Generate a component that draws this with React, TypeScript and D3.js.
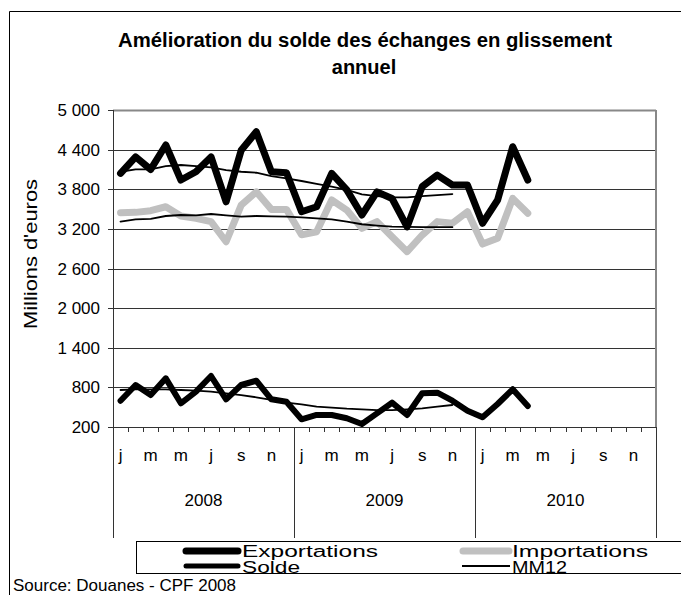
import React from 'react';
import * as d3 from 'd3';

const months = ['j', 'f', 'm', 'a', 'm', 'j', 'j', 'a', 's', 'o', 'n', 'd'];
const years = ['2008', '2009', '2010'];
const yTicks = [200, 800, 1400, 2000, 2600, 3200, 3800, 4400, 5000];

const exportations = [4040, 4290, 4100, 4470, 3940, 4065, 4290, 3610, 4390, 4670, 4065, 4050,
  3460, 3535, 4040, 3790, 3410, 3760, 3660, 3230, 3840, 4015, 3865, 3865,
  3285, 3637, 4444, 3940];
const importations = [3445, 3450, 3475, 3535, 3395, 3360, 3310, 3005, 3560, 3760, 3495, 3495,
  3110, 3157, 3637, 3485, 3208, 3310, 3080, 2855, 3107, 3310, 3285, 3460,
  2970, 3057, 3662, 3435];
const solde = [598, 836, 684, 937, 559, 735, 972, 619, 836, 901, 619, 583,
  317, 382, 382, 332, 245, 407, 568, 382, 710, 720, 598, 447,
  347, 548, 771, 518];
const mm12Export = [4065, 4100, 4100, 4150, 4167, 4150, 4130, 4090, 4065, 4050, 4000, 3965,
  3925, 3880, 3840, 3790, 3723, 3697, 3677, 3677, 3697, 3712, 3727];
const mm12Import = [3310, 3345, 3350, 3395, 3410, 3405, 3425, 3405, 3385, 3395, 3390, 3385,
  3375, 3360, 3345, 3310, 3270, 3250, 3233, 3230, 3225, 3225, 3225];
const mm12Solde = [760, 771, 771, 771, 760, 750, 735, 710, 684, 650, 609, 568,
  543, 507, 492, 477, 468, 457, 457, 468, 483, 507, 533];

const font = 'Arial, "Liberation Sans", sans-serif';

export default function App() {
  const W = 681, H = 595;
  const left = 113, right = 656, top = 110, bottom = 427;
  const nMonths = years.length * 12;

  const x = d3.scaleLinear().domain([0, nMonths]).range([left, right]);
  const y = d3.scaleLinear().domain([200, 5000]).range([bottom, top]);
  const cx = (i: number) => x(i + 0.5);

  const line = d3.line<number>().x((_, i) => cx(i)).y(d => y(d));

  const fmt = (v: number) => d3.format(',')(v).replace(',', ' ');

  return (
    <svg width={W} height={H} style={{ position: 'absolute', left: 0, top: 0 }} fontFamily={font}>
      <rect x={0} y={0} width={W} height={H} fill="#fff" />
      {/* outer frame */}
      <line x1={9.5} y1={11.5} x2={W} y2={11.5} stroke="#000" />
      <line x1={9.5} y1={11.5} x2={9.5} y2={H} stroke="#000" />

      <text x={365} y={47} textAnchor="middle" fontSize={20} fontWeight="bold" textLength={494} lengthAdjust="spacingAndGlyphs">
        Amélioration du solde des échanges en glissement
      </text>
      <text x={364} y={74} textAnchor="middle" fontSize={20} fontWeight="bold">annuel</text>

      {/* grid */}
      {yTicks.map(t => (
        <g key={t}>
          <line x1={left} x2={right} y1={Math.round(y(t)) + 0.5} y2={Math.round(y(t)) + 0.5}
            stroke={t === 5000 ? '#888' : '#333'} strokeWidth={t === 5000 ? 2 : 1} />
          <line x1={left - 5} x2={left} y1={Math.round(y(t)) + 0.5} y2={Math.round(y(t)) + 0.5} stroke="#333" />
          <text x={100} y={y(t) + 6} textAnchor="end" fontSize={17}>{fmt(t)}</text>
        </g>
      ))}
      <line x1={right} x2={right} y1={top} y2={bottom} stroke="#888" strokeWidth={2} />
      <line x1={left + 0.5} x2={left + 0.5} y1={top} y2={bottom} stroke="#333" />

      <text transform={`translate(37, 254) rotate(-90)`} textAnchor="middle" fontSize={19}
        textLength={150} lengthAdjust="spacingAndGlyphs">
        Millions d'euros
      </text>

      {/* category axis */}
      <line x1={left} x2={right} y1={bottom + 0.5} y2={bottom + 0.5} stroke="#333" />
      {d3.range(nMonths + 1).map(i => (
        <line key={'t' + i} x1={Math.round(x(i)) + 0.5} x2={Math.round(x(i)) + 0.5}
          y1={bottom} y2={i % 12 === 0 ? 538 : bottom + 5} stroke="#333" />
      ))}
      {d3.range(nMonths).filter(i => i % 2 === 0).map(i => (
        <text key={'m' + i} x={cx(i)} y={461} textAnchor="middle" fontSize={17}>{months[i % 12]}</text>
      ))}
      {years.map((yr, k) => (
        <text key={yr} x={x(k * 12 + 6)} y={506} textAnchor="middle" fontSize={17}>{yr}</text>
      ))}

      {/* series */}
      <g fill="none" strokeLinejoin="round" strokeLinecap="round">
        <path d={line(importations) || ''} stroke="#c0c0c0" strokeWidth={7} />
        <path d={line(exportations) || ''} stroke="#000" strokeWidth={7} />
        <path d={line(solde) || ''} stroke="#000" strokeWidth={6} />
        <path d={line(mm12Export) || ''} stroke="#000" strokeWidth={1.8} />
        <path d={line(mm12Import) || ''} stroke="#000" strokeWidth={1.8} />
        <path d={line(mm12Solde) || ''} stroke="#000" strokeWidth={1.8} />
      </g>

      {/* legend */}
      <rect x={136.5} y={541.5} width={W} height={32} fill="#fff" stroke="#000" />
      <g strokeLinecap="round" fontSize={16}>
        <line x1={186} x2={238} y1={551} y2={551} stroke="#000" strokeWidth={7} />
        <text x={242} y={557} textLength={136} lengthAdjust="spacingAndGlyphs">Exportations</text>
        <line x1={463} x2={509} y1={551} y2={551} stroke="#c0c0c0" strokeWidth={7} />
        <text x={512} y={557} textLength={136} lengthAdjust="spacingAndGlyphs">Importations</text>
        <line x1={186} x2={238} y1={566} y2={566} stroke="#000" strokeWidth={5} />
        <text x={242} y={573} textLength={58} lengthAdjust="spacingAndGlyphs">Solde</text>
        <line x1={462} x2={510} y1={566} y2={566} stroke="#000" strokeWidth={1.8} strokeLinecap="butt" />
        <text x={512} y={573} textLength={55} lengthAdjust="spacingAndGlyphs">MM12</text>
      </g>

      <text x={13} y={591} fontSize={17}>Source: Douanes - CPF 2008</text>
    </svg>
  );
}
